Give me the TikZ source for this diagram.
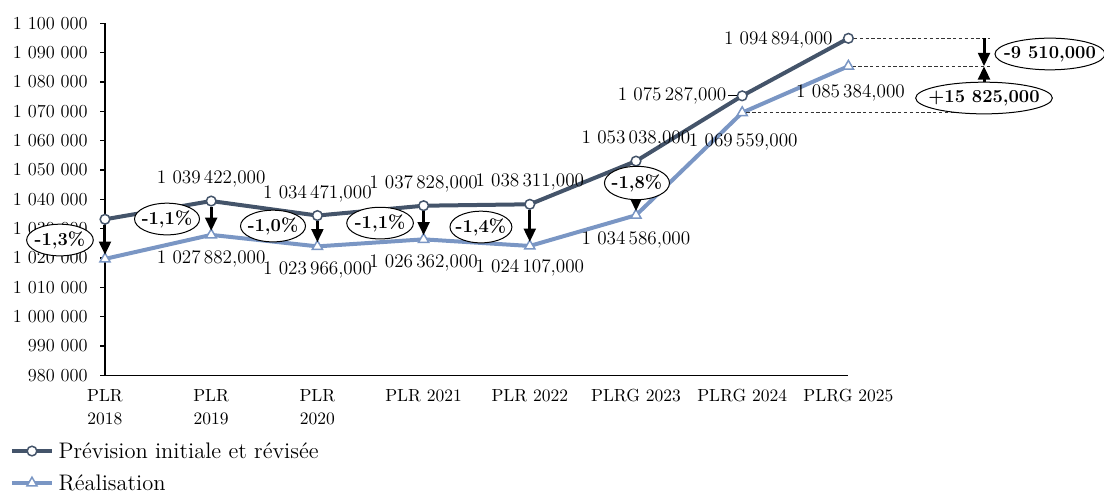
\documentclass[tikz,border=0pt]{standalone}
\usetikzlibrary{arrows.meta,calc,positioning,shapes.geometric}
\definecolor{prevcol}{HTML}{44546A}
\definecolor{realcol}{HTML}{7A96C4}

\begin{document}
\begin{tikzpicture}[x=63.72pt, y=17.6pt,
  prevline/.style={line width=2.4pt, prevcol, line join=round},
  realline/.style={line width=2.4pt, realcol, line join=round},
  prevmark/.style={circle, draw=prevcol, fill=white, line width=0.9pt, minimum size=5.8pt, inner sep=0pt},
  realmark/.style={regular polygon, regular polygon sides=3, draw=realcol, fill=white, line width=0.9pt, minimum size=7pt, inner sep=0pt},
  vallab/.style={font=\fontsize{11.5}{13}\selectfont, inner sep=1pt},
  ecart/.style={ellipse, draw, fill=white, line width=0.6pt, font=\fontsize{11}{13}\selectfont\bfseries, inner ysep=0pt, inner xsep=-2pt, minimum height=19pt, minimum width=#1},
  fleche/.style={line width=1.8pt, -{Triangle[length=8pt, width=7pt]}},
  guide/.style={dash pattern=on 2pt off 1.5pt, line width=0.4pt, black!80}
]
  % frame of the image (1104 x 493 px)
  \useasboundingbox (-0.9887,-4.013) rectangle (9.4068,12.796);

  % axes: one unit = one year along x, 10 000 along y (from 980 000)
  \draw[line width=0.9pt] (0,12) -- (0,0) -- (7,0);
  \foreach \k/\t in {0/980 000, 1/990 000, 2/1 000 000, 3/1 010 000, 4/1 020 000,
                     5/1 030 000, 6/1 040 000, 7/1 050 000, 8/1 060 000, 9/1 070 000,
                     10/1 080 000, 11/1 090 000, 12/1 100 000} {
    \draw[line width=0.9pt] (-0.047,\k) -- (0,\k);
    \node[anchor=east, inner sep=0pt, font=\fontsize{11}{13}\selectfont] (yt\k) at (-0.16,\k) {\t};
  }
  \foreach \i/\t in {0/{PLR\\2018}, 1/{PLR\\2019}, 2/{PLR\\2020}, 3/{PLR 2021},
                     4/{PLR 2022}, 5/{PLRG 2023}, 6/{PLRG 2024}, 7/{PLRG 2025}} {
    \node[anchor=north, align=center, inner sep=2pt, font=\fontsize{10.5}{13.8}\selectfont] (xt\i) at (\i,-0.35) {\t};
  }

  % data points (forecast p, outturn r)
  \foreach \i/\p/\r in {0/5.32/3.97, 1/5.9422/4.7882, 2/5.4471/4.3966, 3/5.7828/4.6362,
                        4/5.8311/4.4107, 5/7.3038/5.4586, 6/9.5287/8.9559, 7/11.4894/10.5384} {
    \coordinate (p\i) at (\i,\p);
    \coordinate (r\i) at (\i,\r);
  }
  \draw[prevline] (p0) -- (p1) -- (p2) -- (p3) -- (p4) -- (p5) -- (p6) -- (p7);
  \draw[realline] (r0) -- (r1) -- (r2) -- (r3) -- (r4) -- (r5) -- (r6) -- (r7);
  \foreach \i in {0,...,7} {
    \node[prevmark] (pm\i) at (p\i) {};
    \node[realmark] (rm\i) at (r\i) {};
  }

  % gap arrows 2018-2023
  \foreach \i in {0,...,5} {
    \draw[fleche, shorten >=-2pt] (pm\i.south) -- (rm\i.corner 1);
  }

  % value labels, forecast above
  \node[vallab] (lp1) at ($(p1)+(0,0.75)$) {1 039\,422,000};
  \node[vallab] (lp2) at ($(p2)+(0,0.75)$) {1 034\,471,000};
  \node[vallab] (lp3) at ($(p3)+(0,0.75)$) {1 037\,828,000};
  \node[vallab] (lp4) at ($(p4)+(0,0.75)$) {1 038\,311,000};
  \node[vallab] (lp5) at ($(p5)+(0,0.75)$) {1 053\,038,000};
  \node[vallab, anchor=east] (lp6) at ($(p6)+(-0.13,0)$) {1 075\,287,000};
  \draw[line width=0.4pt] (lp6.east) -- (pm6.west);
  \node[vallab, anchor=east] (lp7) at ($(p7)+(-0.13,-0.05)$) {1 094\,894,000};
  % value labels, outturn below
  \node[vallab] (lr1) at ($(r1)+(0,-0.82)$) {1 027\,882,000};
  \node[vallab] (lr2) at ($(r2)+(0,-0.82)$) {1 023\,966,000};
  \node[vallab] (lr3) at ($(r3)+(0,-0.8)$) {1 026\,362,000};
  \node[vallab] (lr4) at ($(r4)+(0,-0.76)$) {1 024\,107,000};
  \node[vallab] (lr5) at ($(r5)+(0,-0.84)$) {1 034\,586,000};
  \node[vallab] (lr6) at ($(r6)+(0.01,-1.0)$) {1 069\,559,000};
  \node[vallab] (lr7) at ($(r7)+(0.02,-0.92)$) {1 085\,384,000};

  % 2025 gaps on the right
  \coordinate (hp) at (8.277,11.4894);
  \coordinate (hr) at (8.277,10.5384);
  \coordinate (hq) at (8.277,8.9559);
  \draw[guide] (pm7.east) -- ($(hp)+(0.06,0)$);
  \draw[guide] (rm7.east) -- ($(hr)+(0.06,0)$);
  \draw[guide] (rm6.east) -- ($(hq)+(0.06,0)$);
  \draw[fleche] (hp) -- (hr);
  \draw[fleche] (hq) -- (hr);

  % gap labels
  \node[ecart=40pt] (e0) at (-0.424,4.613) {-1,3\%};
  \node[ecart=39pt] (e1) at (0.584,5.329) {-1,1\%};
  \node[ecart=39pt] (e2) at (1.582,5.09) {-1,0\%};
  \node[ecart=40pt] (e3) at (2.59,5.19) {-1,1\%};
  \node[ecart=37pt] (e4) at (3.54,5.056) {-1,4\%};
  \node[ecart=39pt, minimum height=20pt] (e5) at (5.009,6.557) {-1,8\%};
  \node[ecart=66pt, inner xsep=-10pt] (e6) at (8.898,10.955) {-9 510,000};
  \node[ecart=82pt, inner xsep=-10pt] (e7) at (8.277,9.454) {+15 825,000};

  % legend
  \coordinate (la) at (-0.876,-2.581);
  \coordinate (lb) at (-0.499,-2.581);
  \coordinate (lc) at (-0.876,-3.672);
  \coordinate (ld) at (-0.499,-3.672);
  \draw[prevline] (la) -- (lb);
  \node[prevmark] (lgm1) at ($(la)!0.5!(lb)$) {};
  \node[anchor=west, inner sep=0pt, font=\fontsize{13.5}{15}\selectfont] (lgt1) at (-0.44,-2.581) {Prévision initiale et révisée};
  \draw[realline] (lc) -- (ld);
  \node[realmark] (lgm2) at ($(lc)!0.5!(ld)$) {};
  \node[anchor=west, inner sep=0pt, font=\fontsize{13.5}{15}\selectfont] (lgt2) at (-0.44,-3.672) {Réalisation};
\end{tikzpicture}
\end{document}
